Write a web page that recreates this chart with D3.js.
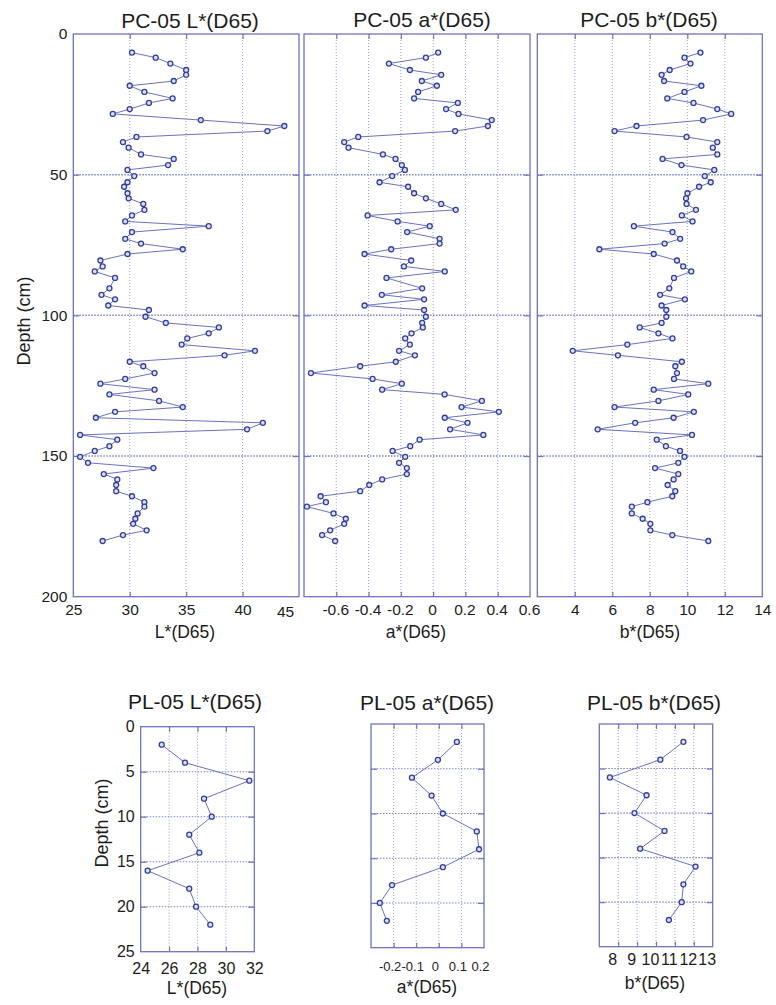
<!DOCTYPE html>
<html>
<head>
<meta charset="utf-8">
<script src="https://cdn.jsdelivr.net/npm/d3@7"></script>
<style>
  body { margin: 0; background: #fff; }
  svg { display: block; }
  text { font-family: "Liberation Sans", Arial, sans-serif; fill: #1c1c1c; }
</style>
</head>
<body>
<svg id="chart" width="776" height="1005"></svg>
<script>
// ---- PC-05 core: sample depths (cm) and colour readings ----
const pcDepth = [6.6, 8.4, 10.5, 12.8, 14.5, 16.7, 18.4, 20.6, 22.9, 24.5,
  26.7, 28.4, 30.6, 32.7, 34.5, 36.6, 38.4, 40.4, 42.8, 44.4,
  46.6, 48.3, 50.5, 52.7, 54.3, 56.6, 58.4, 60.4, 62.5, 64.5,
  66.6, 68.3, 70.4, 72.8, 74.5, 76.5, 78.2, 80.5, 82.6, 84.4,
  86.7, 90.4, 92.7, 94.3, 96.5, 98.1, 100.5, 102.7, 104.3, 106.4,
  108.2, 110.4, 112.6, 114.2, 116.5, 118.1, 120.5, 122.6, 124.3, 126.4,
  128.1, 130.4, 132.6, 134.3, 136.4, 138.2, 140.5, 142.5, 144.2, 146.5,
  148.2, 150.3, 152.4, 154.3, 156.4, 158.3, 160.3, 162.5, 164.3, 166.4,
  168.0, 170.4, 172.3, 174.1, 176.4, 178.1, 180.2];

const pcL = [30.2, 32.3, 33.6, 35.0, 35.0, 33.9, 30.0, 31.3, 33.8, 31.7,
  30.0, 28.5, 36.3, 43.7, 42.2, 30.6, 29.4, 29.9, 31.0, 33.9,
  33.4, 29.8, 30.4, 29.8, 29.5, 29.8, 29.9, 31.2, 31.3, 30.2,
  29.6, 37.0, 30.2, 29.6, 31.0, 34.7, 29.8, 27.4, 27.6, 26.9,
  28.7, 28.2, 27.5, 28.7, 28.1, 31.7, 31.4, 33.2, 37.9, 37.0,
  35.1, 34.6, 41.1, 38.4, 30.0, 31.2, 32.2, 29.6, 27.4, 32.2,
  28.2, 32.6, 34.7, 28.7, 27.0, 41.8, 40.4, 25.6, 28.9, 28.2,
  26.9, 25.6, 26.3, 32.1, 27.7, 28.9, 28.8, 28.8, 30.2, 31.3,
  31.3, 30.7, 30.5, 30.3, 31.5, 29.4, 27.6];

const pcA = [0.031, -0.045, -0.274, -0.144, 0.050, -0.070, 0.023, -0.093, -0.118, 0.153,
  0.080, 0.157, 0.363, 0.339, 0.136, -0.464, -0.551, -0.524, -0.311, -0.233,
  -0.194, -0.175, -0.254, -0.332, -0.155, -0.118, -0.045, 0.050, 0.140, -0.406,
  -0.220, -0.021, -0.161, 0.040, 0.040, -0.260, -0.425, -0.136, -0.181, 0.072,
  -0.289, -0.068, -0.318, -0.056, -0.425, -0.056, -0.045, -0.068, -0.064, -0.134,
  -0.173, -0.144, -0.211, -0.113, -0.231, -0.452, -0.757, -0.375, -0.194, -0.316,
  0.071, 0.302, 0.176, 0.407, 0.072, 0.213, 0.105, 0.311, -0.084, -0.142,
  -0.251, -0.173, -0.211, -0.163, -0.163, -0.316, -0.396, -0.452, -0.697, -0.664,
  -0.782, -0.617, -0.541, -0.551, -0.638, -0.688, -0.607];

const pcB = [10.70, 9.85, 10.17, 9.06, 8.63, 8.76, 10.75, 9.85, 8.93, 10.33,
  11.60, 12.34, 10.84, 7.29, 6.12, 9.96, 11.60, 11.36, 11.60, 8.68,
  9.69, 11.44, 10.93, 11.25, 10.63, 10.01, 9.93, 9.96, 10.46, 9.71,
  10.28, 7.15, 9.21, 9.62, 8.79, 5.31, 8.21, 9.45, 9.78, 10.21,
  9.29, 9.04, 8.55, 9.87, 8.63, 8.88, 8.88, 8.63, 7.46, 8.46,
  9.21, 6.80, 3.89, 6.30, 9.71, 9.36, 9.45, 9.29, 11.12, 8.21,
  10.05, 8.46, 6.12, 10.35, 9.27, 7.22, 5.22, 10.25, 8.37, 8.86,
  9.61, 9.85, 9.52, 8.28, 9.52, 9.27, 8.95, 9.36, 9.20, 7.87,
  7.04, 7.04, 7.62, 8.03, 8.03, 9.20, 11.12];

// ---- PL-05 core ----
const plDepth = [2, 4, 6, 8, 10, 12, 14, 16, 18, 20, 22];
const plL = [25.48, 27.12, 31.65, 28.46, 29.0, 27.42, 28.13, 24.49, 27.42, 27.9, 28.9];
const plA = [0.080, -0.004, -0.119, -0.032, 0.018, 0.168, 0.178, 0.018, -0.207, -0.261, -0.230];
const plB = [11.45, 10.23, 7.56, 9.50, 8.86, 10.45, 9.16, 12.09, 11.45, 11.36, 10.68];

// ---- tick values ----
const pcDepthTicks = [0, 50, 100, 150, 200];
const pcLTicks = [25, 30, 35, 40, 45];
const pcATicks = [-0.6, -0.4, -0.2, 0, 0.2, 0.4, 0.6];
const pcBTicks = [4, 6, 8, 10, 12, 14];
const plDepthTicks = [0, 5, 10, 15, 20, 25];
const plLTicks = [24, 26, 28, 30, 32];
const plATicks = [-0.2, -0.1, 0, 0.1, 0.2];
const plBTicks = [8, 9, 10, 11, 12, 13];

const svg = d3.select("#chart");
const FONT = "Liberation Sans, Arial, sans-serif";
const BORDER = "#6f74bb";
const GRID = "#7c84c6";
const LINE = "#6a72c0";
const MARK = "#323f98";

function panel(o) {
  const g = svg.append("g");
  const x = d3.scaleLinear().domain(o.xDomain).range([o.left, o.right]);
  const y = d3.scaleLinear().domain(o.yDomain).range([o.top, o.bottom]);

  // vertical grid (dotted)
  const xIn = o.xTicks.filter(v => v > o.xDomain[0] + 1e-9 && v < o.xDomain[1] - 1e-9);
  g.append("g").selectAll("line").data(xIn).join("line")
    .attr("x1", d => x(d)).attr("x2", d => x(d))
    .attr("y1", o.top).attr("y2", o.bottom)
    .attr("stroke", GRID).attr("stroke-width", 0.9)
    .attr("stroke-dasharray", "1,2").attr("opacity", 0.85);

  // horizontal grid (denser dots)
  const yIn = o.yTicks.filter(v => v > o.yDomain[0] && v < o.yDomain[1]);
  g.append("g").selectAll("line").data(yIn).join("line")
    .attr("x1", o.left).attr("x2", o.right)
    .attr("y1", d => y(d)).attr("y2", d => y(d))
    .attr("stroke", GRID).attr("stroke-width", o.hGridWidth)
    .attr("stroke-dasharray", "1.5,1.5");

  // inward ticks on all four sides
  const tickStyle = (sel, size) => {
    sel.select(".domain").remove();
    sel.selectAll(".tick line").attr("stroke", BORDER).attr("stroke-width", 1.2);
    sel.attr("font-family", FONT).attr("font-size", size);
    sel.selectAll(".tick text").attr("fill", "#1c1c1c");
  };
  const fmt = d => String(d);

  const left = g.append("g").attr("transform", `translate(${o.left},0)`)
    .call(d3.axisLeft(y).tickValues(yIn.concat(o.showY ? [o.yDomain[0], o.yDomain[1]] : []))
      .tickSize(-6).tickSizeOuter(0).tickPadding(6)
      .tickFormat(o.showY ? fmt : ""));
  tickStyle(left, o.tickFont);
  left.selectAll(".tick").filter(d => !yIn.includes(d)).select("line").remove();

  const right = g.append("g").attr("transform", `translate(${o.right},0)`)
    .call(d3.axisRight(y).tickValues(yIn).tickSize(-6).tickSizeOuter(0).tickFormat(""));
  tickStyle(right, o.tickFont);

  const bottom = g.append("g").attr("transform", `translate(0,${o.bottom})`)
    .call(d3.axisBottom(x).tickValues(o.xTicks).tickSize(-5).tickSizeOuter(0)
      .tickPadding(o.xPad).tickFormat(fmt));
  tickStyle(bottom, o.xTickFont || o.tickFont);
  bottom.selectAll(".tick").filter(d => !xIn.includes(d)).select("line").remove();
  bottom.selectAll(".tick text").attr("dx", o.labelShift || 0);
  if (o.adjust) o.adjust(bottom);

  const top = g.append("g").attr("transform", `translate(0,${o.top})`)
    .call(d3.axisTop(x).tickValues(xIn).tickSize(-5).tickSizeOuter(0).tickFormat(""));
  tickStyle(top, o.tickFont);

  // frame
  g.append("rect")
    .attr("x", o.left).attr("y", o.top)
    .attr("width", o.right - o.left).attr("height", o.bottom - o.top)
    .attr("fill", "none").attr("stroke", BORDER).attr("stroke-width", 1.3);

  // profile line and sample markers
  const pts = o.depth.map((d, i) => [o.values[i], d]);
  g.append("path").datum(pts)
    .attr("d", d3.line().x(p => x(p[0])).y(p => y(p[1])))
    .attr("fill", "none").attr("stroke", LINE).attr("stroke-width", 1);
  g.append("g").selectAll("circle").data(pts).join("circle")
    .attr("cx", p => x(p[0])).attr("cy", p => y(p[1])).attr("r", 2.5)
    .attr("fill", "#dde0f5").attr("stroke", MARK).attr("stroke-width", 1.3);

  // titles and labels
  g.append("text").attr("x", o.titleX).attr("y", o.titleY)
    .attr("text-anchor", "middle").attr("font-size", 21).text(o.title);
  g.append("text").attr("x", o.xLabelX).attr("y", o.xLabelY)
    .attr("text-anchor", "middle").attr("font-size", 17.5).text(o.xLabel);
  if (o.yLabel) {
    g.append("text")
      .attr("transform", `translate(${o.yLabelX},${o.yLabelY}) rotate(-90)`)
      .attr("text-anchor", "middle").attr("font-size", 18).text(o.yLabel);
  }
}

// PC-05 panels
panel({ left: 73.3, right: 299, top: 34, bottom: 596.7,
  xDomain: [25, 45], yDomain: [0, 200], xTicks: pcLTicks, yTicks: pcDepthTicks,
  depth: pcDepth, values: pcL, showY: true, tickFont: 15.5, xPad: 7, hGridWidth: 1.5,
  adjust: ax => ax.selectAll(".tick text").filter(d => d === 45).attr("dx", -14).attr("dy", "0.85em"),
  title: "PC-05 L*(D65)", titleX: 190, titleY: 28,
  xLabel: "L*(D65)", xLabelX: 185, xLabelY: 638,
  yLabel: "Depth (cm)", yLabelX: 30, yLabelY: 321 });

panel({ left: 304, right: 530, top: 34, bottom: 596.7,
  xDomain: [-0.8, 0.6], yDomain: [0, 200], xTicks: pcATicks, yTicks: pcDepthTicks,
  depth: pcDepth, values: pcA, showY: false, tickFont: 15.5, xPad: 7, hGridWidth: 1.5,
  labelShift: -1,
  title: "PC-05 a*(D65)", titleX: 422, titleY: 27,
  xLabel: "a*(D65)", xLabelX: 416, xLabelY: 638 });

panel({ left: 537.3, right: 762.3, top: 34, bottom: 596.7,
  xDomain: [2, 14], yDomain: [0, 200], xTicks: pcBTicks, yTicks: pcDepthTicks,
  depth: pcDepth, values: pcB, showY: false, tickFont: 15.5, xPad: 7, hGridWidth: 1.5,
  title: "PC-05 b*(D65)", titleX: 649, titleY: 27,
  xLabel: "b*(D65)", xLabelX: 650, xLabelY: 638 });

// PL-05 panels
panel({ left: 140.7, right: 254.3, top: 726.7, bottom: 951.7,
  xDomain: [24, 32], yDomain: [0, 25], xTicks: plLTicks, yTicks: plDepthTicks,
  depth: plDepth, values: plL, showY: true, tickFont: 16, xPad: 11, hGridWidth: 1.1,
  title: "PL-05 L*(D65)", titleX: 195, titleY: 709,
  xLabel: "L*(D65)", xLabelX: 197, xLabelY: 994,
  yLabel: "Depth (cm)", yLabelX: 108, yLabelY: 823 });

panel({ left: 371, right: 484, top: 724, bottom: 947.7,
  xDomain: [-0.3, 0.2], yDomain: [0, 25], xTicks: plATicks, yTicks: plDepthTicks,
  depth: plDepth, values: plA, showY: false, tickFont: 16, xTickFont: 13, xPad: 14, hGridWidth: 1.1,
  labelShift: -4,
  title: "PL-05 a*(D65)", titleX: 427, titleY: 710,
  xLabel: "a*(D65)", xLabelX: 427, xLabelY: 993 });

panel({ left: 599.3, right: 712.7, top: 724, bottom: 946.7,
  xDomain: [7, 13], yDomain: [0, 25], xTicks: plBTicks, yTicks: plDepthTicks,
  depth: plDepth, values: plB, showY: false, tickFont: 16, xPad: 7, hGridWidth: 1.1,
  labelShift: -6,
  title: "PL-05 b*(D65)", titleX: 654, titleY: 710,
  xLabel: "b*(D65)", xLabelX: 655, xLabelY: 989 });
</script>
</body>
</html>
